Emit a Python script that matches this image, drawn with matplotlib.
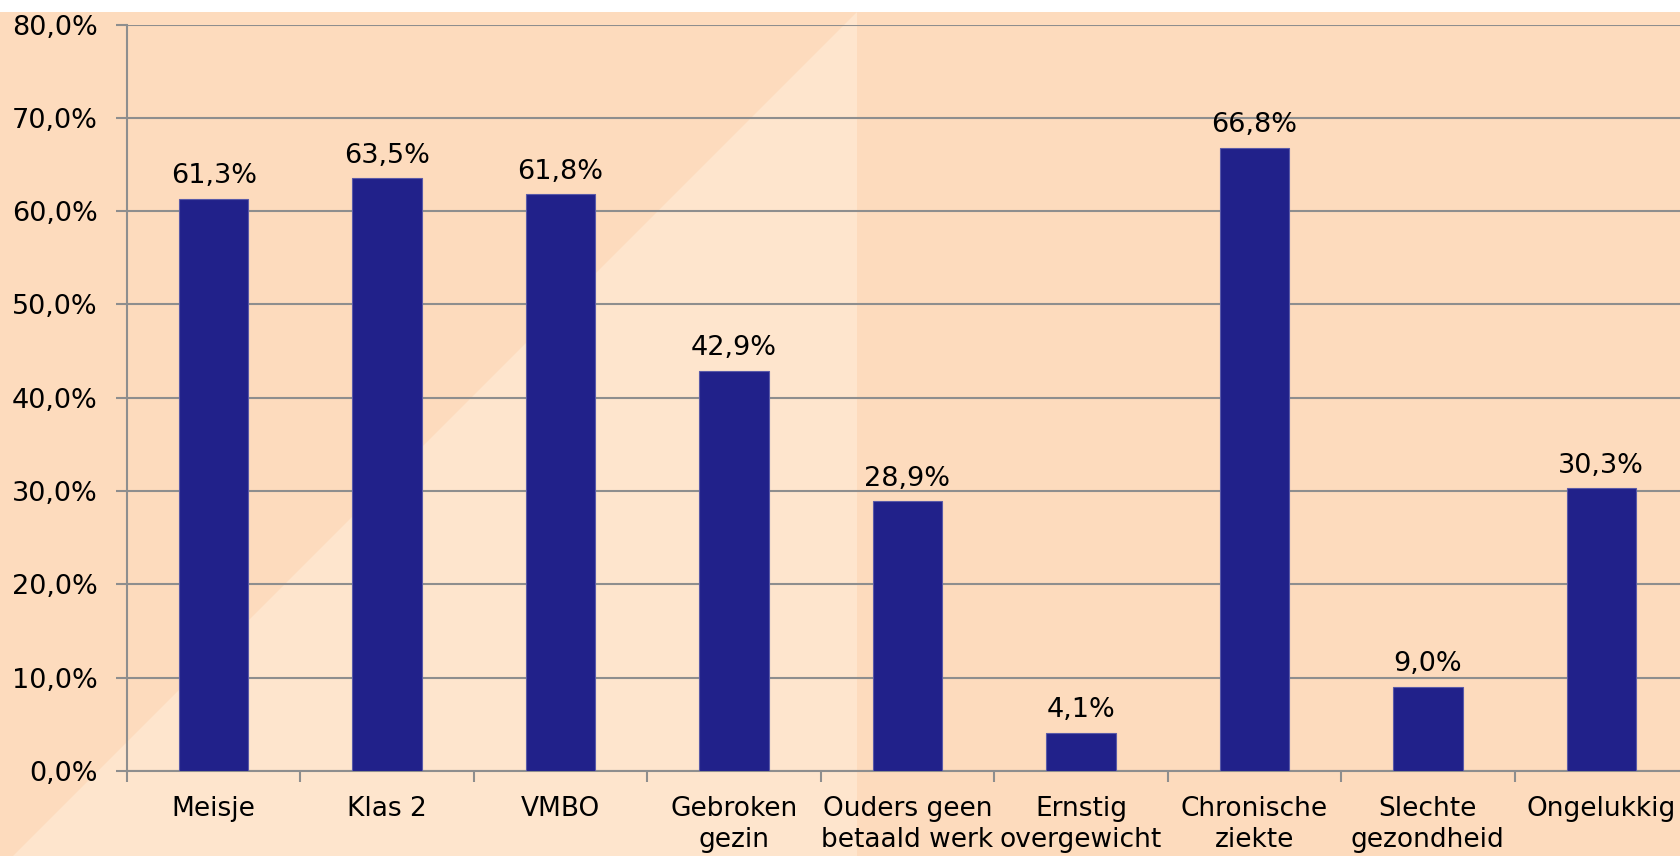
import matplotlib.pyplot as plt
import matplotlib.patches as mpatches
from matplotlib.ticker import FuncFormatter

categories = ["Meisje", "Klas 2", "VMBO", "Gebroken\ngezin", "Ouders geen\nbetaald werk",
              "Ernstig\novergewicht", "Chronische\nziekte", "Slechte\ngezondheid", "Ongelukkig"]
values = [61.3, 63.5, 61.8, 42.9, 28.9, 4.1, 66.8, 9.0, 30.3]
yticks = [0, 10, 20, 30, 40, 50, 60, 70, 80]

W, H = 1680, 856
fig = plt.figure(figsize=(W / 100, H / 100), dpi=100, facecolor='white')

# peach background with lighter diagonal panel
dark_peach = '#fddbbd'
light_peach = '#fee5cd'
fig.patches.append(mpatches.Rectangle((0, 0), 1, 1 - 12 / H, transform=fig.transFigure,
                                      facecolor=dark_peach, edgecolor='none', zorder=-2))
fig.patches.append(mpatches.Polygon([(13 / W, 0), (857 / W, 1 - 12 / H), (857 / W, 0)],
                                    closed=True, transform=fig.transFigure,
                                    facecolor=light_peach, edgecolor='none', zorder=-1))

ax = fig.add_axes([127 / W, 1 - 771 / H, 1561 / W, (771 - 24.5) / H])
ax.patch.set_visible(False)

grey = '#8e8e8e'
fs = 19.5
x = list(range(len(categories)))
ax.bar(x, values, width=0.4, color='#21218a', edgecolor='#5a5aa8', linewidth=0.8, zorder=3)

for xi, v in zip(x, values):
    ax.annotate(f"{v:.1f}%".replace('.', ','), (xi, v), xytext=(0, 7), textcoords='offset points',
                ha='center', va='bottom', fontsize=fs, color='black')

ax.set_xlim(-0.5, len(categories) - 0.5)
ax.set_ylim(0, 80)
ax.set_yticks(yticks)
ax.yaxis.set_major_formatter(FuncFormatter(lambda v, p: f"{v:.1f}%".replace('.', ',')))
ax.grid(axis='y', color=grey, linewidth=1.5, zorder=0)

ax.set_xticks([i - 0.5 for i in x] + [len(categories) - 0.5])
ax.set_xticklabels([])
ax.set_xticks(x, minor=True)
ax.set_xticklabels(categories, minor=True, fontsize=19, linespacing=1.27)
ax.tick_params(axis='x', which='minor', length=0, pad=18)
ax.tick_params(axis='x', which='major', length=8, width=1.5, color=grey)
ax.tick_params(axis='y', length=8, width=1.5, color=grey, labelsize=fs, pad=13)

for s in ['top', 'right']:
    ax.spines[s].set_visible(False)
for s in ['left', 'bottom']:
    ax.spines[s].set_color(grey)
    ax.spines[s].set_linewidth(1.5)

fig.savefig('out.png', dpi=100, facecolor=fig.get_facecolor())
